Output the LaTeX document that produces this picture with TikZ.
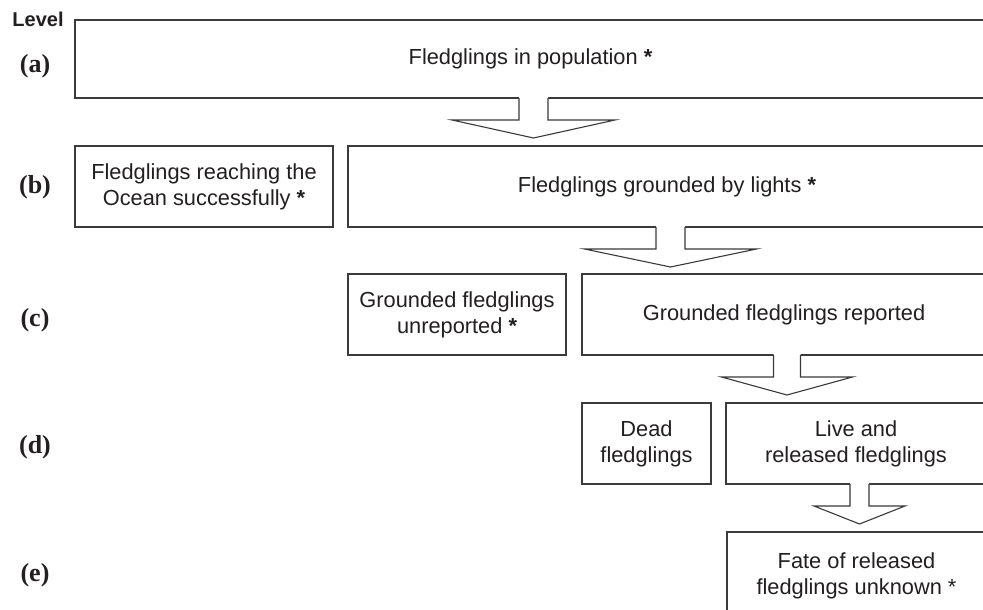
\documentclass[tikz,border=0pt]{standalone}
\usepackage{fontspec}
\setmainfont{Liberation Sans}
\newfontfamily\serifb{Liberation Serif}
\usetikzlibrary{calc}
\definecolor{ink}{HTML}{231F20}
\definecolor{edge}{HTML}{3A3A3A}
\tikzset{
  box/.style={draw=edge, line width=1.1pt, anchor=north west, inner sep=0pt, outer sep=0pt,
    align=center, text=ink, font=\fontsize{21.8}{26}\selectfont},
  lvl/.style={text=ink, font=\serifb\bfseries\fontsize{26}{26}\selectfont, inner sep=0pt},
  lvlhead/.style={text=ink, font=\bfseries\fontsize{20}{20}\selectfont, inner sep=0pt},
  arr/.style={draw=edge, line width=1.1pt, line join=miter},
}
% #1 source node, #2 x offset, #3 stem half width, #4 head half width
\newcommand{\blockarr}[4]{%
  \coordinate (tmp) at ($(#1.south)+(#2,0)$);
  \fill[white] ($(tmp)+(-#3,-1.5)$) -- ($(tmp)+(-#3,22)$) -- ($(tmp)+(-#4,22)$) -- ($(tmp)+(0,40)$)
     -- ($(tmp)+(#4,22)$) -- ($(tmp)+(#3,22)$) -- ($(tmp)+(#3,-1.5)$) -- cycle;
  \draw[arr] ($(tmp)+(-#3,0)$) -- ($(tmp)+(-#3,22)$) -- ($(tmp)+(-#4,22)$) -- ($(tmp)+(0,40)$)
     -- ($(tmp)+(#4,22)$) -- ($(tmp)+(#3,22)$) -- ($(tmp)+(#3,0)$);
}
\begin{document}
\begin{tikzpicture}[x=1pt,y=-1pt]
\useasboundingbox (0,0) rectangle (983,610);
\clip (0,0) rectangle (983,610);
\fill[white] (0,0) rectangle (983,610);

% level labels
\node[lvlhead] (lv) at (38,19) {Level};
\node[lvl] (la) at (35,66) {(a)};
\node[lvl] (lb) at (35,187) {(b)};
\node[lvl] (lc) at (35,320) {(c)};
\node[lvl] (ld) at (35,447) {(d)};
\node[lvl] (le) at (35,575) {(e)};

% boxes
\node[box, minimum width=911, minimum height=78] (a) at (75,20) {Fledglings in population \textbf{*}};
\node[box, minimum width=258, minimum height=81] (b1) at (75,146) {Fledglings reaching the\\Ocean successfully \textbf{*}};
\node[box, minimum width=638, minimum height=81] (b2) at (348,146) {Fledglings grounded by lights \textbf{*}};
\node[box, minimum width=218, minimum height=81] (c1) at (348,274) {Grounded fledglings\\unreported \textbf{*}};
\node[box, minimum width=404, minimum height=81] (c2) at (582,274) {Grounded fledglings reported};
\node[box, minimum width=129, minimum height=81] (d1) at (582,403) {Dead\\fledglings};
\node[box, minimum width=260, minimum height=81] (d2) at (726,403) {Live and\\released fledglings};
\node[box, minimum width=259, minimum height=88] (e) at (727,532) {Fate of released\\fledglings unknown *};

% block arrows
\blockarr{a}{3}{14.5}{81.5}
\blockarr{b2}{3.5}{14.5}{86}
\blockarr{c2}{3}{13.5}{65.5}
\blockarr{d2}{3.5}{9.5}{45.5}
\end{tikzpicture}
\end{document}
